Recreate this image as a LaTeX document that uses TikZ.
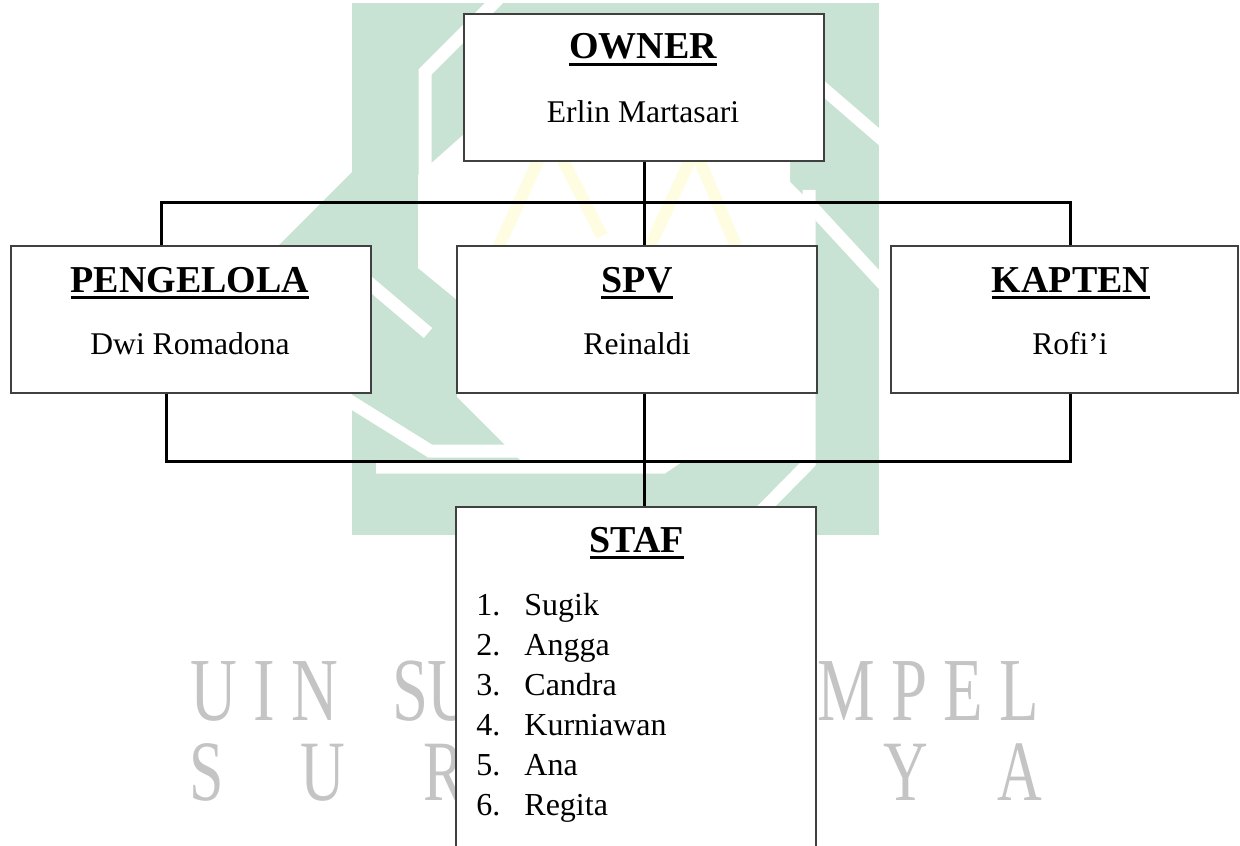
\documentclass[tikz,border=0pt]{standalone}
\usepackage{fontspec}
\setmainfont{Liberation Serif}
\newfontfamily\wmfont[FakeStretch=0.72,LetterSpace=18]{Liberation Serif}
\newfontfamily\wmfontb[FakeStretch=0.72]{Liberation Serif}
\newcommand\ulhead[1]{\setbox0=\hbox{#1}\rlap{\rule[-3.4pt]{\wd0}{1.4pt}}\box0}
\definecolor{wmgreen}{RGB}{200,227,211}
\definecolor{wmyellow}{RGB}{254,253,226}
\definecolor{wmgrey}{RGB}{196,196,196}
\begin{document}
\begin{tikzpicture}[x=0.5pt,y=-0.5pt,
  box/.style={draw=black!75,line width=0.75pt,fill=white,minimum width=180pt,minimum height=73.5pt,inner sep=0pt},
  ttl/.style={anchor=base,inner sep=0pt,font=\fontsize{19}{22}\selectfont\bfseries},
  nm/.style={anchor=base,inner sep=0pt,font=\fontsize{15.8}{19}\selectfont},
  item/.style={anchor=base west,inner sep=0pt,font=\fontsize{16}{19}\selectfont},
  conn/.style={line width=1.5pt,black},
  wstripe/.style={white,line width=6.5pt},
  arch/.style={wmyellow,line width=6pt},
  wmtext/.style={anchor=base west,inner sep=0pt,text=wmgrey,font=\fontsize{45}{50}\wmfont},
  wmletter/.style={anchor=base,inner sep=0pt,text=wmgrey,font=\fontsize{43}{50}\wmfontb}]
\useasboundingbox (0,0) rectangle (1240,845);
\clip (0,0) rectangle (1240,845);
% ---- watermark ----
\fill[wmgreen] (352,3) rectangle (879,535);
\fill[wmgreen] (352,172) -- (262,262) -- (352,262) -- cycle;
\fill[white] (418,175) -- (463,135) -- (790,135) -- (790,182) -- (806,198) -- (806,460) -- (520,460) -- (457,397) -- (457,300) -- (418,268) -- cycle;
\draw[wstripe] (425,180) -- (425,72) -- (500,-3);
\draw[wstripe] (348,265) -- (428,333);
\draw[wstripe] (348,400) -- (430,451) -- (520,451);
\draw[wstripe] (376,467) -- (663,467) -- (782,386);
\draw[wstripe] (809,190) -- (809,463) -- (733,540);
\draw[wstripe] (818,84) -- (884,141);
\draw[wstripe] (812,207) -- (884,285);
\draw[arch] (497,250) -- (550,135) -- (602,236);
\draw[arch] (650,246) -- (695,150) -- (736,246);
\begin{scope}
\clip (0,0) rectangle (456,845);
\node[wmtext] (wmuin) at (190,720) {UIN};
\node[wmtext] (wms) at (392,720) {S};
\node[wmletter,anchor=base east,font=\fontsize{45}{50}\wmfontb] (wmu) at (475,720) {U};
\node[wmletter] (wmcity0) at (207,800) {S};
\node[wmletter] (wmcity1) at (323,800) {U};
\node[wmletter] (wmcity2) at (444,800) {R};
\end{scope}
\node[wmtext] (wmmpel) at (817,720) {MPEL};
\node[wmletter] (wmcity6) at (906,800) {Y};
\node[wmletter] (wmcity7) at (1020,800) {A};
% ---- boxes ----
\node[box] (owner) at (644,87.5) {};
\node[box] (pengelola) at (191,319.5) {};
\node[box] (spv) at (637,319.5) {};
\node[box,minimum width=173.5pt] (kapten) at (1064.5,319.5) {};
\node[box,minimum height=196.5pt] (staf) at (636,703.5) {};
% ---- texts ----
\node[ttl] (ownert) at (643,59) {\ulhead{OWNER}};
\node[nm] (ownern) at (643,123) {Erlin Martasari};
\node[ttl] (pengelolat) at (190,292) {\ulhead{PENGELOLA}};
\node[nm] (pengelolan) at (190,354) {Dwi Romadona};
\node[ttl] (spvt) at (637,292) {\ulhead{SPV}};
\node[nm] (spvn) at (637,354) {Reinaldi};
\node[ttl] (kaptent) at (1071,292) {\ulhead{KAPTEN}};
\node[nm] (kaptenn) at (1070,354) {Rofi’i};
\node[ttl] (staft) at (637,552) {\ulhead{STAF}};
\foreach \n [count=\i] in {Sugik,Angga,Candra,Kurniawan,Ana,Regita}{
  \node[item] (num\i) at (476,575+40*\i) {\i.};
  \node[item] (staff\i) at (524,575+40*\i) {\n};
}
% ---- connectors ----
\coordinate (tl) at (161,203);
\coordinate (tr) at (1070,203);
\coordinate (bl) at (166,461);
\coordinate (br) at (1070,461);
\draw[conn] (owner.south) -- (owner.south |- spv.north);
\draw[conn] (pengelola.north -| tl) -- (tl) -- (tr) -- (kapten.north -| tr);
\draw[conn] (pengelola.south -| bl) -- (bl) -- (br) -- (kapten.south -| br);
\draw[conn] (spv.south -| owner.south) -- (staf.north -| owner.south);
\end{tikzpicture}
\end{document}
